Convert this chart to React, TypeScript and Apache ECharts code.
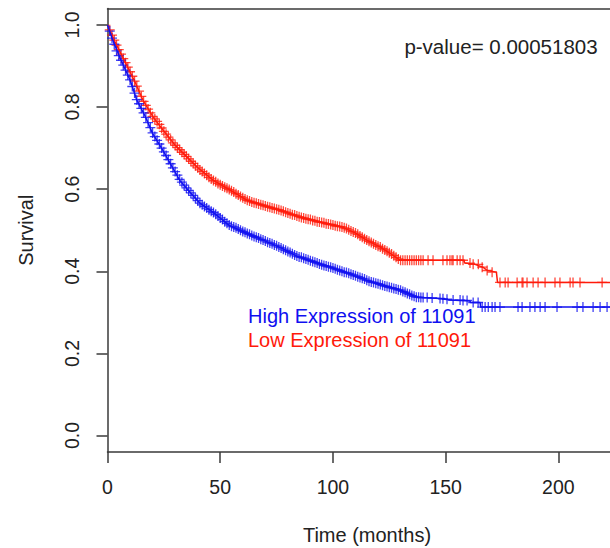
import React, { useEffect, useRef } from 'react';
import * as echarts from 'echarts';

const xTicks = [0, 50, 100, 150, 200];
const yTicks = [0, 0.2, 0.4, 0.6, 0.8, 1.0];

const highName = 'High Expression of 11091';
const lowName = 'Low Expression of 11091';
const pValueText = 'p-value= 0.00051803';
const xTitle = 'Time (months)';
const yTitle = 'Survival';

// Kaplan-Meier curves (months, survival)
const highCurve: [number, number][] = [
  [0, 1], [2, 0.968], [5.5, 0.92], [10, 0.866], [13, 0.817], [16.5, 0.78], [20, 0.736],
  [24.5, 0.695], [29, 0.651], [32, 0.622], [36.5, 0.593], [41, 0.566], [47, 0.543],
  [54, 0.512], [62, 0.492], [69, 0.476], [77, 0.457], [84, 0.437], [91, 0.424], [99, 0.41],
  [107, 0.395], [115, 0.378], [122, 0.366], [130, 0.354], [137, 0.337], [147.5, 0.334],
  [152, 0.33], [160.8, 0.328], [161, 0.324], [165.3, 0.324], [165.5, 0.313], [223, 0.313],
];

const lowCurve: [number, number][] = [
  [0, 1], [3.3, 0.959], [7.8, 0.91], [12.2, 0.861], [15.7, 0.817], [20.2, 0.776], [24.6, 0.744],
  [30, 0.707], [34.4, 0.683], [39.7, 0.654], [46.8, 0.622], [54.3, 0.598], [62, 0.573],
  [70, 0.559], [76.5, 0.549], [85.4, 0.532], [94.3, 0.52], [104.5, 0.507], [110, 0.493],
  [115, 0.476], [121, 0.459], [125.3, 0.444], [129.8, 0.427], [158, 0.427], [158.5, 0.42],
  [163, 0.417], [166.5, 0.41], [168.5, 0.402], [172.5, 0.398], [173, 0.373], [223, 0.373],
];

// censored observations (months, survival)
const highCensor: [number, number][] = [
  [1, 0.985], [2, 0.968], [3, 0.953], [4, 0.937], [5, 0.925], [6, 0.914], [7, 0.902], [8, 0.89],
  [9, 0.878], [10, 0.866], [11, 0.85], [12, 0.834], [13, 0.818], [14, 0.808], [15, 0.797],
  [16, 0.786], [17, 0.775], [18, 0.762], [19, 0.75], [20, 0.737], [21, 0.728], [22, 0.719],
  [23, 0.71], [24, 0.7], [25, 0.691], [26, 0.682], [27, 0.672], [28, 0.662], [29, 0.652],
  [30, 0.643], [31, 0.634], [32, 0.624], [33, 0.617], [34, 0.61], [35, 0.603], [36, 0.597],
  [37, 0.591], [38, 0.585], [39, 0.578], [40, 0.572], [41, 0.566], [42, 0.562], [43, 0.558],
  [44, 0.554], [45, 0.55], [46, 0.546], [47, 0.543], [48, 0.539], [49, 0.535], [50, 0.53],
  [51, 0.526], [52, 0.521], [53, 0.517], [54, 0.513], [55, 0.51], [56, 0.508], [57, 0.506],
  [58, 0.503], [59, 0.5], [60, 0.497], [61, 0.495], [62, 0.492], [63, 0.49], [64, 0.487],
  [65, 0.485], [66, 0.483], [67, 0.481], [68, 0.478], [69, 0.476], [70, 0.474], [71, 0.471],
  [72, 0.469], [73, 0.467], [74, 0.464], [75, 0.462], [76, 0.459], [77, 0.457], [78, 0.454],
  [79, 0.451], [80, 0.448], [81, 0.446], [82, 0.443], [83, 0.44], [84, 0.437], [85, 0.435],
  [86, 0.434], [87, 0.432], [88, 0.43], [89, 0.428], [90, 0.426], [91, 0.424], [92, 0.422],
  [93, 0.42], [94, 0.418], [95, 0.416], [96, 0.414], [97, 0.413], [98, 0.411], [99, 0.41],
  [100, 0.408], [101, 0.406], [102, 0.404], [103, 0.402], [104, 0.4], [105, 0.398],
  [106, 0.397], [107, 0.395], [108, 0.393], [109, 0.391], [110, 0.389], [111, 0.387],
  [112, 0.385], [113, 0.383], [114, 0.381], [115, 0.378], [116, 0.376], [117, 0.374],
  [118, 0.373], [119, 0.371], [120, 0.37], [121, 0.368], [122, 0.366], [123, 0.364],
  [124, 0.363], [125, 0.361], [126, 0.36], [127, 0.358], [128, 0.357], [129, 0.355],
  [130, 0.354], [131, 0.351], [132, 0.349], [133, 0.346], [134, 0.344], [135, 0.341],
  [136, 0.339], [137, 0.337], [138, 0.337], [139, 0.336], [140, 0.336], [141.8, 0.336],
  [144, 0.335], [147.5, 0.334], [148.8, 0.333], [150.6, 0.332], [153.3, 0.33], [156.4, 0.33],
  [157.7, 0.329], [159.5, 0.329], [162.2, 0.324], [164.4, 0.324], [166.2, 0.313],
  [167.5, 0.313], [168.9, 0.313], [170.6, 0.313], [171.9, 0.313], [174.1, 0.313],
  [182.1, 0.313], [183.9, 0.313], [187.4, 0.313], [189.6, 0.313], [191.9, 0.313],
  [194.1, 0.313], [199.4, 0.313], [208.3, 0.313], [210.9, 0.313], [215.4, 0.313],
  [218.5, 0.313], [221.6, 0.313],
];

const lowCensor: [number, number][] = [
  [1, 0.988], [2, 0.975], [3, 0.963], [4, 0.951], [5, 0.94], [6, 0.929], [7, 0.918], [8, 0.908],
  [9, 0.897], [10, 0.886], [11, 0.875], [12, 0.863], [13, 0.851], [14, 0.839], [15, 0.826],
  [16, 0.814], [17, 0.804], [18, 0.795], [19, 0.786], [20, 0.777], [21, 0.771], [22, 0.765],
  [23, 0.758], [24, 0.749], [25, 0.741], [26, 0.734], [27, 0.727], [28, 0.72], [29, 0.713],
  [30, 0.707], [31, 0.701], [32, 0.696], [33, 0.69], [34, 0.685], [35, 0.68], [36, 0.674],
  [37, 0.668], [38, 0.663], [39, 0.657], [40, 0.652], [41, 0.647], [42, 0.643], [43, 0.638],
  [44, 0.634], [45, 0.629], [46, 0.625], [47, 0.621], [48, 0.618], [49, 0.614], [50, 0.611],
  [51, 0.608], [52, 0.605], [53, 0.602], [54, 0.599], [55, 0.596], [56, 0.593], [57, 0.589],
  [58, 0.586], [59, 0.582], [60, 0.579], [61, 0.576], [62, 0.573], [63, 0.571], [64, 0.569],
  [65, 0.567], [66, 0.566], [67, 0.564], [68, 0.562], [69, 0.561], [70, 0.559], [71, 0.557],
  [72, 0.556], [73, 0.554], [74, 0.553], [75, 0.551], [76, 0.55], [77, 0.548], [78, 0.546],
  [79, 0.544], [80, 0.542], [81, 0.54], [82, 0.538], [83, 0.537], [84, 0.535], [85, 0.533],
  [86, 0.531], [87, 0.53], [88, 0.528], [89, 0.527], [90, 0.526], [91, 0.524], [92, 0.523],
  [93, 0.521], [94, 0.52], [95, 0.519], [96, 0.518], [97, 0.516], [98, 0.515], [99, 0.514],
  [100, 0.513], [101, 0.511], [102, 0.51], [103, 0.509], [104, 0.508], [105, 0.506],
  [106, 0.504], [107, 0.501], [108, 0.498], [109, 0.496], [110, 0.493], [111, 0.49],
  [112, 0.486], [113, 0.483], [114, 0.479], [115, 0.476], [116, 0.473], [117, 0.47],
  [118, 0.467], [119, 0.464], [120, 0.461], [121, 0.459], [122, 0.455], [123, 0.452],
  [124, 0.449], [125, 0.445], [126, 0.442], [127, 0.438], [128, 0.434], [129, 0.43],
  [130, 0.427], [131, 0.427], [132, 0.427], [133, 0.427], [134, 0.427], [135, 0.427],
  [136, 0.427], [137, 0.427], [138, 0.427], [139, 0.427], [140, 0.427], [142.2, 0.427],
  [144.4, 0.427], [148.8, 0.427], [150.6, 0.427], [151.9, 0.427], [152.8, 0.427],
  [153.3, 0.427], [155.1, 0.427], [156.4, 0.427], [157.7, 0.427], [160.8, 0.42],
  [162.2, 0.417], [164.5, 0.417], [166.2, 0.41], [168.4, 0.402], [170.6, 0.398],
  [174.1, 0.373], [176.4, 0.373], [177.7, 0.373], [181.7, 0.373], [183.9, 0.373],
  [184.3, 0.373], [186.1, 0.373], [188.8, 0.373], [191, 0.373], [194.1, 0.373],
  [198.5, 0.373], [200.7, 0.373], [205.2, 0.373], [206.5, 0.373], [209.6, 0.373],
  [219.4, 0.373],
];

const BLUE = '#1010f0';
const RED = '#ff1a0a';
const INK = '#222222';
const FRAME = '#3a3a3a';
const FONT = '"Liberation Sans", Arial, Helvetica, sans-serif';
const FS = 19.5;
const TFS = 20;

export default function App() {
  const ref = useRef<HTMLDivElement>(null);
  useEffect(() => {
    document.body.style.margin = '0';
    const chart = echarts.init(ref.current!, null, { renderer: 'svg' });
    const plus = 'path://M5,0L5,10M0,5L10,5';
    const frameLine = { show: true, onZero: false, lineStyle: { color: FRAME, width: 1.5 } };
    chart.setOption({
      animation: false,
      backgroundColor: '#ffffff',
      textStyle: { fontFamily: FONT },
      grid: {
        left: 107.5,
        right: 0,
        top: 8.5,
        bottom: 96,
        show: false,
      },
      xAxis: [
        {
          type: 'value',
          position: 'bottom',
          min: 0,
          max: 222.9,
          axisLine: frameLine,
          splitLine: { show: false },
          axisTick: {
            show: true,
            inside: false,
            length: 11,
            customValues: xTicks,
            lineStyle: { color: FRAME, width: 1.5 },
          },
          axisLabel: {
            show: true,
            customValues: xTicks,
            margin: 25,
            fontSize: FS,
            color: INK,
            fontFamily: FONT,
          },
        },
        {
          type: 'value',
          position: 'top',
          min: 0,
          max: 222.9,
          axisLine: frameLine,
          splitLine: { show: false },
          axisTick: { show: false },
          axisLabel: { show: false },
        },
      ],
      yAxis: {
        type: 'value',
        min: -0.04,
        max: 1.04,
        name: yTitle,
        nameLocation: 'middle',
        nameGap: 72,
        nameTextStyle: { fontSize: TFS, color: INK, fontFamily: FONT },
        axisLine: frameLine,
        splitLine: { show: false },
        axisTick: {
          show: true,
          inside: false,
          length: 11,
          customValues: yTicks,
          lineStyle: { color: FRAME, width: 1.5 },
        },
        axisLabel: {
          show: true,
          customValues: yTicks,
          rotate: 90,
          margin: 26,
          fontSize: FS,
          color: INK,
          fontFamily: FONT,
          formatter: (v: number) => v.toFixed(1),
        },
      },
      series: [
        {
          type: 'line',
          name: lowName,
          data: lowCurve,
          showSymbol: false,
          silent: true,
          lineStyle: { color: RED, width: 1.5 },
        },
        {
          type: 'scatter',
          name: lowName + ' censored',
          data: lowCensor,
          symbol: plus,
          symbolSize: 10,
          silent: true,
          itemStyle: { color: 'none', borderColor: RED, borderWidth: 1.3 },
        },
        {
          type: 'line',
          name: highName,
          data: highCurve,
          showSymbol: false,
          silent: true,
          lineStyle: { color: BLUE, width: 1.5 },
        },
        {
          type: 'scatter',
          name: highName + ' censored',
          data: highCensor,
          symbol: plus,
          symbolSize: 10,
          silent: true,
          itemStyle: { color: 'none', borderColor: BLUE, borderWidth: 1.3 },
        },
      ],
      graphic: [
        {
          type: 'text',
          x: 501,
          y: 46,
          style: {
            text: pValueText,
            fill: INK,
            font: `20.5px ${FONT}`,
            textAlign: 'center',
            textVerticalAlign: 'middle',
          },
        },
        {
          type: 'text',
          x: 367,
          y: 535,
          style: {
            text: xTitle,
            fill: INK,
            font: `${TFS}px ${FONT}`,
            textAlign: 'center',
            textVerticalAlign: 'middle',
          },
        },
        {
          type: 'text',
          x: 248,
          y: 316,
          style: {
            text: highName,
            fill: BLUE,
            font: `${TFS}px ${FONT}`,
            textAlign: 'left',
            textVerticalAlign: 'middle',
          },
        },
        {
          type: 'text',
          x: 248,
          y: 340,
          style: {
            text: lowName,
            fill: RED,
            font: `${TFS}px ${FONT}`,
            textAlign: 'left',
            textVerticalAlign: 'middle',
          },
        },
      ],
    });
    return () => chart.dispose();
  }, []);
  return <div ref={ref} style={{ width: 610, height: 548 }} />;
}
